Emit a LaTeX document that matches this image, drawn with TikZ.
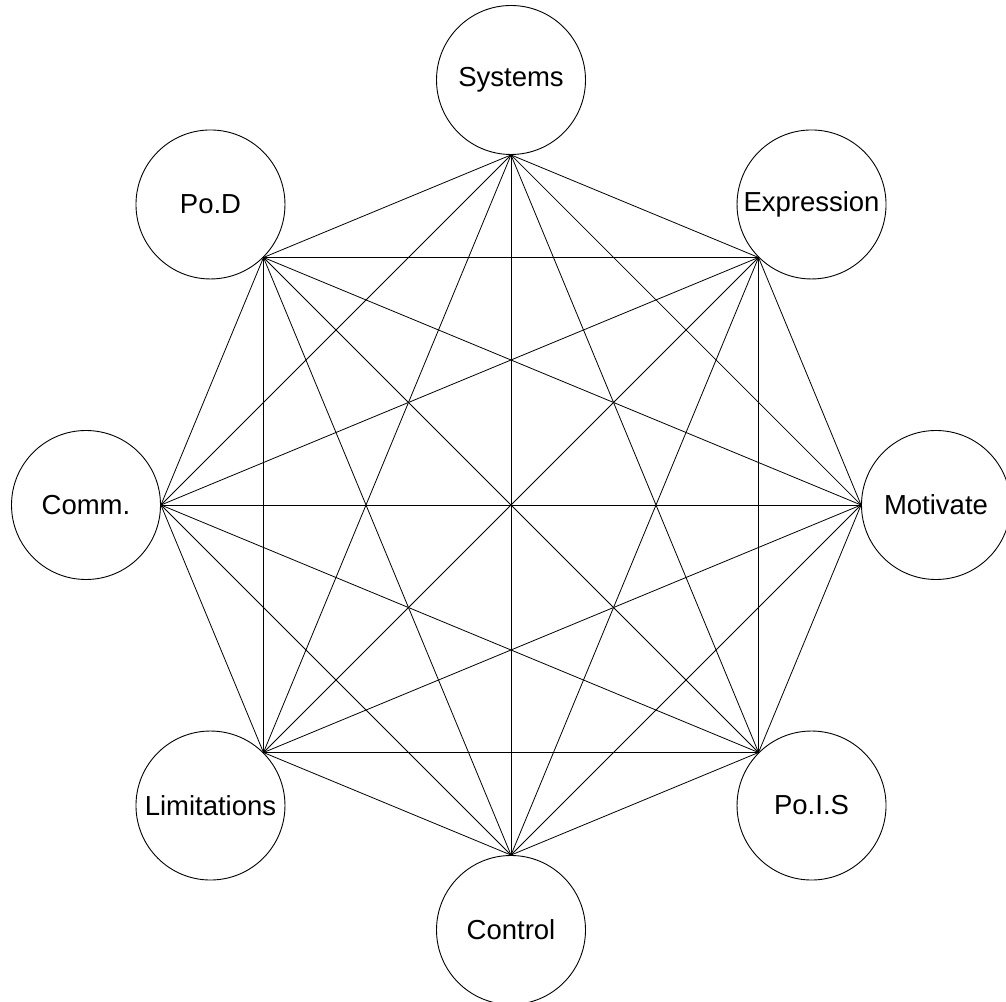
\documentclass[tikz,border=0pt]{standalone}
\usepackage{fontspec}
\setmainfont{Liberation Sans}
\begin{document}
\begin{tikzpicture}[x=1pt,y=1pt,
  hub/.style={circle,draw,line width=0.9pt,minimum size=149pt,inner sep=0pt,
    font=\fontsize{27.5}{30}\selectfont},
  link/.style={line width=0.8pt}]
\useasboundingbox (0,0) rectangle (1006,1001);
% eight topics on a ring around the centre
\foreach \i/\txt in {1/Systems,2/Expression,3/Motivate,4/Po.I.S,
                     5/Control,6/Limitations,7/Comm.,8/Po.D}{
  \pgfmathtruncatemacro\a{90-45*(\i-1)}
  \pgfmathtruncatemacro\b{270-45*(\i-1)}
  \path (511,496) ++(\a:425) node[hub] (n\i) {\txt};
  \coordinate (v\i) at (n\i.\b);
}
% every topic linked with every other one
\foreach \i [evaluate=\i as \k using int(\i+1)] in {1,...,7}{
  \foreach \j in {\k,...,8}{
    \draw[link] (v\i) -- (v\j);
  }
}
\end{tikzpicture}
\end{document}
